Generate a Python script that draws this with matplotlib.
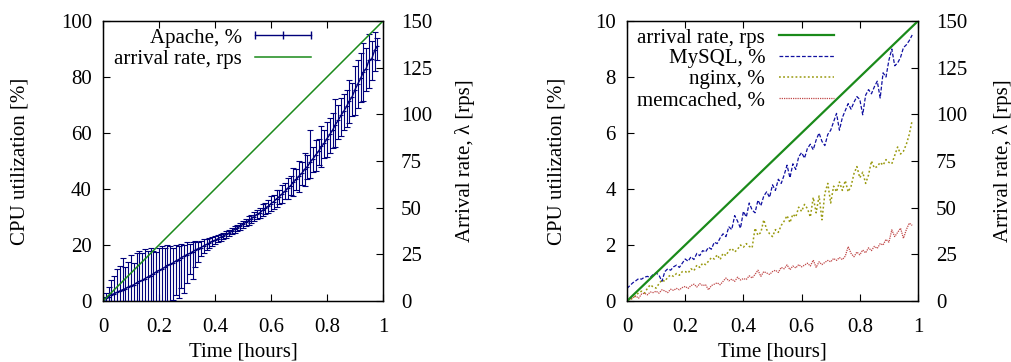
"""
CPU utilization vs. arrival rate: Apache (left) and backend tiers (right).
"""

import numpy as np
import matplotlib
matplotlib.use("Agg")
import matplotlib.pyplot as plt
from matplotlib.lines import Line2D
from matplotlib.legend_handler import HandlerLine2D

# ---- data ----
time_h = np.round(np.arange(99) * 0.01, 2)  # sample times, hours

apache_mean = [
    0.5, 1.0, 1.6, 2.3, 2.6, 3.1, 3.6, 4.0, 4.4, 5.0,
    5.4, 5.8, 6.5, 7.0, 7.4, 8.0, 8.6, 9.1, 9.7, 10.4,
    10.9, 11.4, 12.0, 12.7, 13.1, 13.6, 14.3, 14.8, 15.5, 16.0,
    16.6, 17.0, 17.6, 18.2, 18.7, 19.1, 19.7, 20.2, 20.7, 21.3,
    21.7, 22.2, 22.8, 23.2, 23.8, 24.3, 24.9, 25.6, 26.1, 26.7,
    27.4, 28.1, 28.7, 29.4, 30.1, 30.9, 31.5, 32.4, 33.1, 33.8,
    34.8, 35.5, 36.5, 37.3, 38.3, 39.2, 40.3, 41.2, 42.5, 43.4,
    44.6, 45.6, 47.0, 48.0, 49.6, 50.8, 52.2, 53.5, 55.2, 56.3,
    58.0, 59.5, 61.0, 63.0, 64.5, 66.3, 67.8, 69.5, 71.5, 73.0,
    75.5, 77.5, 79.5, 81.8, 83.0, 86.0, 86.5, 89.5, 91.0]
apache_hi = [
    1.5, 3.0, 5.0, 7.5, 9.0, 11.5, 12.5, 15.5, 12.0, 14.0,
    16.5, 13.5, 17.0, 18.0, 17.0, 18.5, 18.0, 19.0, 18.0, 17.5,
    19.0, 19.5, 19.0, 20.0, 19.5, 19.0, 20.0, 19.5, 20.5, 20.0,
    21.0, 20.5, 21.0, 21.5, 21.0, 21.5, 22.0, 22.2, 22.5, 23.0,
    23.2, 23.6, 24.0, 24.4, 25.0, 25.5, 26.0, 26.8, 27.2, 27.9,
    28.6, 29.3, 30.2, 30.8, 31.8, 32.5, 33.2, 34.5, 35.0, 36.0,
    37.5, 37.8, 39.5, 39.8, 41.5, 42.0, 44.0, 44.5, 47.5, 47.0,
    50.0, 49.5, 53.0, 52.0, 61.0, 55.0, 57.5, 58.0, 62.5, 61.0,
    64.0, 65.5, 67.0, 72.0, 70.0, 72.5, 74.0, 75.5, 79.0, 78.0,
    84.0, 86.0, 88.5, 92.0, 90.5, 95.5, 93.0, 96.0, 94.0]
apache_lo = [
    0.0, 0.0, 0.0, 0.0, 0.0, 0.0, 0.0, 0.0, 0.0, 0.0,
    0.0, 0.0, 0.0, 0.0, 0.0, 0.0, 0.0, 0.0, 0.0, 0.0,
    0.0, 0.0, 0.0, 0.0, 0.0, 0.5, 2.0, 1.0, 4.5, 3.0,
    6.5, 9.5, 8.0, 12.0, 14.0, 16.0, 17.0, 18.3, 19.0, 19.6,
    20.3, 20.9, 21.4, 22.0, 22.6, 23.1, 23.8, 24.3, 25.0, 25.5,
    26.2, 26.8, 27.3, 28.0, 28.5, 29.2, 29.8, 30.3, 31.0, 31.6,
    32.0, 33.0, 33.5, 34.6, 35.0, 36.3, 36.5, 37.8, 37.5, 39.5,
    39.0, 41.5, 41.0, 43.5, 44.0, 46.0, 46.5, 48.5, 48.0, 51.0,
    51.5, 53.0, 54.5, 55.0, 58.0, 59.0, 61.0, 62.0, 63.5, 66.0,
    66.5, 69.0, 71.0, 71.5, 75.0, 76.0, 79.0, 82.0, 86.0]

mysql = [
    0.45, 0.55, 0.65, 0.72, 0.80, 0.78, 0.85, 0.88, 0.84, 0.95,
    1.00, 0.92, 0.70, 1.05, 1.15, 1.10, 1.22, 1.28, 1.20, 1.35,
    1.50, 1.42, 1.58, 1.48, 1.70, 1.62, 1.80, 1.75, 1.92, 1.85,
    2.10, 2.05, 2.25, 2.40, 2.30, 2.65, 2.55, 3.05, 2.85, 2.60,
    3.20, 3.00, 3.50, 3.25, 3.15, 3.60, 3.40, 3.75, 3.90, 3.70,
    4.15, 3.95, 4.35, 4.20, 4.50, 4.85, 4.40, 4.90, 4.70, 5.15,
    5.30, 5.10, 5.45, 5.60, 5.40, 5.75, 6.00, 5.70, 5.55, 5.95,
    6.10, 6.40, 6.70, 6.10, 6.55, 6.80, 7.05, 6.85, 7.10, 7.30,
    7.20, 6.65, 7.35, 7.55, 7.40, 7.65, 7.85, 7.25, 8.15, 8.00,
    8.60, 9.00, 8.40, 8.50, 8.70, 9.05, 9.15, 9.30, 9.50]
nginx = [
    0.00, 0.05, 0.10, 0.18, 0.30, 0.35, 0.28, 0.45, 0.58, 0.50,
    0.46, 0.62, 0.75, 0.70, 0.85, 0.93, 0.88, 0.98, 0.92, 1.05,
    1.05, 1.00, 1.15, 1.08, 1.28, 1.20, 1.35, 1.30, 1.42, 1.55,
    1.50, 1.65, 1.48, 1.70, 1.62, 1.80, 1.88, 1.75, 1.85, 2.00,
    1.92, 2.05, 1.95, 1.90, 2.60, 2.35, 2.45, 2.90, 2.55, 2.40,
    2.30, 2.55, 2.45, 2.70, 2.85, 3.05, 2.80, 3.10, 3.00, 3.35,
    3.20, 3.45, 3.30, 3.00, 3.70, 3.15, 3.75, 2.90, 3.85, 4.20,
    3.50, 4.10, 3.90, 4.25, 3.95, 4.30, 3.90, 4.10, 4.55, 4.80,
    4.40, 4.60, 4.20, 4.50, 5.00, 4.75, 4.80, 4.95, 4.85, 5.05,
    4.95, 4.90, 5.20, 5.50, 5.25, 5.35, 5.60, 5.95, 6.45]
memcached = [
    0.00, 0.05, 0.12, 0.18, 0.10, 0.25, 0.28, 0.22, 0.32, 0.30,
    0.35, 0.28, 0.40, 0.36, 0.30, 0.42, 0.38, 0.45, 0.40, 0.48,
    0.52, 0.45, 0.55, 0.60, 0.50, 0.62, 0.55, 0.58, 0.40, 0.55,
    0.60, 0.65, 0.58, 0.70, 0.82, 0.72, 0.78, 0.70, 0.85, 0.75,
    0.80, 0.77, 0.90, 0.82, 0.95, 1.10, 0.88, 1.05, 1.00, 0.95,
    1.05, 1.10, 1.02, 1.20, 1.15, 1.29, 1.12, 1.25, 1.18, 1.30,
    1.22, 1.28, 1.35, 1.25, 1.46, 1.20, 1.40, 1.30, 1.38, 1.45,
    1.40, 1.52, 1.45, 1.55, 1.48, 1.60, 1.94, 1.70, 1.58, 1.75,
    1.65, 1.82, 1.72, 1.90, 1.80, 1.95, 1.88, 2.05, 2.00, 2.20,
    2.10, 2.54, 2.30, 2.45, 2.60, 2.24, 2.55, 2.78, 2.70]

rate_time = [0.0, 0.25, 0.5, 0.75, 1.0]
arrival_rate = [0.0, 37.5, 75.0, 112.5, 150.0]

NAVY = "#00007a"
GREEN = "#1a8a1a"
BLUE = "#1010a0"
OLIVE = "#9a9a10"
RED = "#c04848"
FS = 15

plt.rcParams["font.family"] = ["Liberation Serif", "DejaVu Serif"]
plt.rcParams["font.size"] = FS


def style_axes(ax, ax2, ylim, y2lim, yticks, y2ticks):
    ax.set_xlim(0, 1)
    ax.set_ylim(*ylim)
    ax2.set_ylim(*y2lim)
    ax.set_xticks([0, 0.2, 0.4, 0.6, 0.8, 1])
    ax.set_xticklabels(["0", "0.2", "0.4", "0.6", "0.8", "1"])
    ax.set_yticks(yticks)
    ax2.set_yticks(y2ticks)
    ax.tick_params(axis="x", direction="in", top=True, length=5, width=0.8, pad=12)
    ax.tick_params(axis="y", direction="in", right=False, length=5, width=0.8, pad=8)
    ax2.tick_params(axis="y", direction="in", length=5, width=0.8, pad=13)
    for sp in ax.spines.values():
        sp.set_linewidth(1.0)
    ax.set_xlabel("Time [hours]")
    ax.xaxis.set_label_coords(0.5, -0.182)
    ax.xaxis.label.set_va("center")


fig = plt.figure(figsize=(10.11, 3.62), dpi=100)
ax_l = fig.add_axes([103 / 1011, 61 / 362, 280 / 1011, 280 / 362])
ax_r = fig.add_axes([627 / 1011, 61 / 362, 291 / 1011, 280 / 362])
ax_l2 = ax_l.twinx()
ax_r2 = ax_r.twinx()

# ---- left panel: Apache ----
mean = np.array(apache_mean)
yerr = [mean - np.array(apache_lo), np.array(apache_hi) - mean]
ax_l.errorbar(time_h, mean, yerr=yerr, color=NAVY, lw=1.0, elinewidth=0.8,
              capsize=2.2, capthick=0.8, marker="+", ms=3, mew=0.8, zorder=3)
ax_l2.plot(rate_time, arrival_rate, color=GREEN, lw=1.1)

style_axes(ax_l, ax_l2, (0, 100), (0, 150),
           [0, 20, 40, 60, 80, 100], [0, 25, 50, 75, 100, 125, 150])
ax_l.set_ylabel("CPU utilization [%]")
ax_l.yaxis.set_label_coords(-0.296, 0.5)
ax_l.yaxis.label.set_va("center")
ax_l2.set_ylabel("Arrival rate, λ [rps]")
ax_l2.yaxis.set_label_coords(1.293, 0.5)
ax_l2.yaxis.label.set_va("center")

apache_proxy = Line2D([], [], color=NAVY, lw=1.0, marker="|", ms=6, mew=1.0)
rate_proxy = Line2D([], [], color=GREEN, lw=1.1)
ax_l.legend([apache_proxy, rate_proxy], ["Apache, %", "arrival rate, rps"],
            loc="upper left", bbox_to_anchor=(0.04, 0.975), frameon=False,
            markerfirst=False, handlelength=2.65, handletextpad=0.65,
            labelspacing=0.1, borderpad=0, borderaxespad=0,
            handler_map={apache_proxy: HandlerLine2D(numpoints=3, marker_pad=0)})

# ---- right panel: backend tiers ----
ax_r.plot(time_h, mysql, color=BLUE, lw=0.9, dashes=(3, 1.5))
ax_r.plot(time_h, nginx, color=OLIVE, lw=1.1, dashes=(1.2, 1.5))
ax_r.plot(time_h, memcached, color=RED, lw=0.9, dashes=(1, 0.8))
ax_r2.plot(rate_time, arrival_rate, color=GREEN, lw=1.6)

style_axes(ax_r, ax_r2, (0, 10), (0, 150),
           [0, 2, 4, 6, 8, 10], [0, 25, 50, 75, 100, 125, 150])
ax_r.set_ylabel("CPU utilization [%]")
ax_r.yaxis.set_label_coords(-0.24, 0.5)
ax_r.yaxis.label.set_va("center")
ax_r2.set_ylabel("Arrival rate, λ [rps]")
ax_r2.yaxis.set_label_coords(1.292, 0.5)
ax_r2.yaxis.label.set_va("center")

handles = [Line2D([], [], color=GREEN, lw=1.6),
           Line2D([], [], color=BLUE, lw=0.9, dashes=(3, 1.5)),
           Line2D([], [], color=OLIVE, lw=1.1, dashes=(1.2, 1.5)),
           Line2D([], [], color=RED, lw=0.9, dashes=(1, 0.8))]
ax_r.legend(handles, ["arrival rate, rps", "MySQL, %", "nginx, %", "memcached, %"],
            loc="upper left", bbox_to_anchor=(0.035, 0.975), frameon=False,
            markerfirst=False, handlelength=2.65, handletextpad=0.65,
            labelspacing=0.06, borderpad=0, borderaxespad=0)

fig.savefig("out.png", dpi=100, facecolor="white")
